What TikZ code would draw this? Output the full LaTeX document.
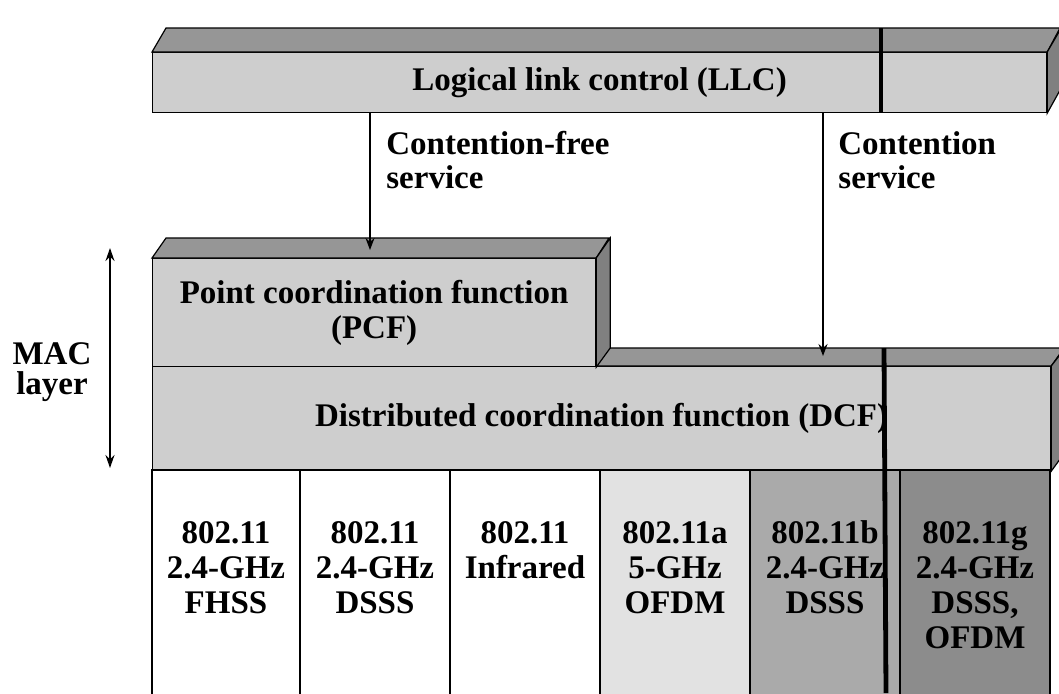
\documentclass[tikz,border=0pt]{standalone}
\usepackage{fontspec}
\setmainfont{Liberation Serif}
\usetikzlibrary{positioning, arrows.meta}
\definecolor{face}{RGB}{206,206,206}
\definecolor{topface}{RGB}{150,150,150}
\definecolor{sideface}{RGB}{128,128,128}
\definecolor{cella}{RGB}{226,226,226}
\definecolor{cellb}{RGB}{170,170,170}
\definecolor{cellg}{RGB}{140,140,140}

\begin{document}
\begin{tikzpicture}[
    x=0.5pt, y=-0.5pt,
    front/.style={
        draw,
        fill=face,
        line width=0.6pt,
        inner sep=0pt,
        anchor=north west,
        align=center,
        font=\bfseries\fontsize{16.5}{17.5}\selectfont
    },
    bevel/.style={draw, fill=#1, line width=0.6pt},
    bevel/.default=topface,
    cell/.style={
        draw,
        fill=#1,
        line width=0.6pt,
        minimum width=75pt,
        minimum height=120pt,
        anchor=north west,
        inner sep=0pt,
        outer sep=0pt
    },
    cell/.default=white,
    celltxt/.style={font=\bfseries\fontsize{16.5}{17.5}\selectfont, align=center, anchor=north, inner sep=0pt},
    svclbl/.style={font=\bfseries\fontsize{16.5}{17}\selectfont, align=left, anchor=west, inner sep=0pt},
    svcarrow/.style={-{Stealth[length=6pt, width=4.5pt]}, line width=0.7pt},
    gutter/.style={line width=2.4pt}
]
\useasboundingbox (0,0) rectangle (1059,693);
\clip (0,0) rectangle (1059,693);

% === LLC ===
\node[front, minimum width=447pt, minimum height=30pt] (llc) at (152,52) {Logical link control (LLC)};
\draw[bevel] (llc.north west) -- ++(14,-24) -- ++(894,0) -- (llc.north east) -- cycle;
\draw[bevel=sideface] (llc.north east) -- ++(14,-24) -- ++(0,60) -- (llc.south east) -- cycle;
\draw[gutter] (881,28) -- (881,112);

% === DCF ===
\node[front, minimum width=449pt, minimum height=52pt] (dcf) at (152,366) {Distributed coordination function (DCF)};
\draw[bevel] (595,366) -- ++(14,-18) -- ++(455,0) -- (dcf.north east) -- cycle;
\draw[bevel=sideface] (dcf.north east) -- ++(14,-18) -- ++(0,104) -- (dcf.south east) -- cycle;

% === PCF ===
\node[front, minimum width=221.5pt, minimum height=54pt] (pcf) at (152,258) {Point coordination function\\(PCF)};
\draw[bevel] (pcf.north west) -- ++(14,-20) -- ++(443,0) -- (pcf.north east) -- cycle;
\draw[bevel=sideface] (pcf.north east) -- ++(14,-20) -- ++(0,110) -- (pcf.south east) -- cycle;

% === PHY cells ===
\node[cell, minimum width=74pt] (fhss) at (152,470) {};
\node[cell, right=0pt of fhss] (dsss) {};
\node[cell, right=0pt of dsss] (ir) {};
\node[cell=cella, right=0pt of ir] (ofdm) {};
\node[cell=cellb, right=0pt of ofdm] (bdsss) {};
\node[cell=cellg, right=0pt of bdsss] (gmix) {};

\node[celltxt, below=25pt of fhss.north] {\vphantom{b}802.11\\2.4-GHz\\FHSS};
\node[celltxt, below=25pt of dsss.north] {\vphantom{b}802.11\\2.4-GHz\\DSSS};
\node[celltxt, below=25pt of ir.north] {\vphantom{b}802.11\\Infrared};
\node[celltxt, below=25pt of ofdm.north] {\vphantom{b}802.11a\\5-GHz\\OFDM};
\node[celltxt, below=25pt of bdsss.north] {802.11b\\2.4-GHz\\DSSS};
\node[celltxt, below=25pt of gmix.north] {\vphantom{b}802.11g\\2.4-GHz\\DSSS,\\OFDM};

\draw[gutter] (884,348) -- (886,693);

% === Services ===
\coordinate (pcfin) at (370,250);
\coordinate (dcfin) at (823,356);
\draw[svcarrow] (llc.south -| pcfin) -- (pcfin);
\draw[svcarrow] (llc.south -| dcfin) -- (dcfin);
\node[svclbl] (cfree) at (386,160) {Contention-free\\service};
\node[svclbl] (cont) at (838,160) {Contention\\service};

% === MAC layer ===
\coordinate (mactop) at (110,248);
\coordinate (macbot) at (110,468);
\draw[{Stealth[length=6.5pt, width=4.5pt]}-{Stealth[length=6.5pt, width=4.5pt]}, line width=0.9pt] (mactop) -- (macbot);
\node[font=\bfseries\fontsize{16.5}{15}\selectfont, align=center] (mac) at (52,372) {MAC\\layer};

\end{tikzpicture}
\end{document}
